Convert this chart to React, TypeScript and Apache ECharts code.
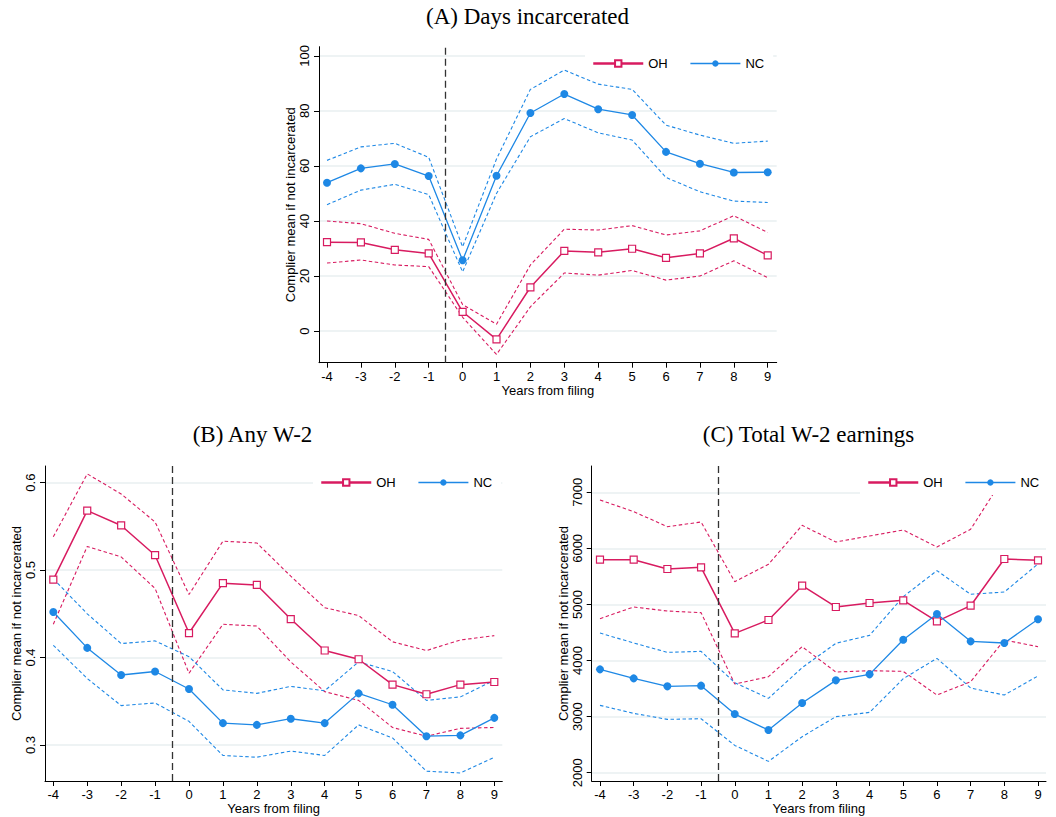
import React, { useEffect, useRef } from "react";
import * as echarts from "echarts";

// ---------- data ----------
const years = [-4, -3, -2, -1, 0, 1, 2, 3, 4, 5, 6, 7, 8, 9];
const legendNames = ["OH", "NC"];
const titles = ["(A) Days incarcerated", "(B) Any W-2", "(C) Total W-2 earnings"];
const xTitle = "Years from filing";
const yTitle = "Complier mean if not incarcerated";

// (A) Days incarcerated
const aTicks = [0, 20, 40, 60, 80, 100];
const aOH = [32.3, 32.2, 29.5, 28.2, 7.0, -3.0, 15.9, 29.1, 28.6, 29.9, 26.6, 28.2, 33.7, 27.5];
const aOHhi = [40.0, 39.0, 35.5, 33.3, 9.6, 2.5, 24.0, 37.0, 36.7, 38.3, 34.9, 36.4, 41.9, 35.8];
const aOHlo = [24.7, 25.8, 24.0, 23.4, 5.0, -8.5, 8.8, 21.1, 20.3, 22.0, 18.5, 20.0, 25.5, 19.4];
const aNC = [53.9, 59.1, 60.7, 56.3, 25.7, 56.4, 79.2, 86.1, 80.6, 78.5, 65.1, 60.8, 57.6, 57.7];
const aNChi = [62.0, 66.9, 68.2, 63.1, 30.6, 62.5, 87.8, 94.8, 89.7, 87.8, 74.8, 71.2, 68.2, 69.0];
const aNClo = [45.9, 51.2, 53.3, 49.6, 21.5, 50.0, 70.6, 77.2, 72.0, 69.4, 55.8, 50.6, 47.2, 46.7];

// (B) Any W-2
const bTicks = [0.3, 0.4, 0.5, 0.6];
const bOH = [0.489, 0.568, 0.551, 0.517, 0.428, 0.485, 0.483, 0.444, 0.408, 0.398, 0.369, 0.358, 0.369, 0.372];
const bOHhi = [0.538, 0.610, 0.587, 0.555, 0.472, 0.533, 0.531, 0.493, 0.457, 0.448, 0.418, 0.408, 0.420, 0.425];
const bOHlo = [0.438, 0.527, 0.515, 0.479, 0.382, 0.438, 0.436, 0.395, 0.361, 0.351, 0.320, 0.310, 0.319, 0.320];
const bNC = [0.452, 0.411, 0.380, 0.384, 0.364, 0.325, 0.323, 0.330, 0.325, 0.359, 0.346, 0.310, 0.311, 0.331];
const bNChi = [0.490, 0.450, 0.416, 0.419, 0.401, 0.363, 0.359, 0.367, 0.362, 0.395, 0.384, 0.351, 0.355, 0.374];
const bNClo = [0.414, 0.376, 0.345, 0.348, 0.327, 0.288, 0.286, 0.293, 0.288, 0.323, 0.308, 0.270, 0.268, 0.286];

// (C) Total W-2 earnings
const cTicks = [2000, 3000, 4000, 5000, 6000, 7000];
const cOH = [5799, 5799, 5632, 5662, 4485, 4723, 5335, 4955, 5026, 5074, 4699, 4978, 5811, 5787];
const cOHhi = [6863, 6655, 6387, 6471, 5406, 5716, 6411, 6114, 6221, 6328, 6025, 6340, 7280, 7220];
const cOHlo = [4747, 4955, 4883, 4854, 3581, 3712, 4247, 3795, 3819, 3807, 3385, 3623, 4366, 4247];
const cNC = [3843, 3682, 3540, 3552, 3046, 2761, 3243, 3647, 3754, 4372, 4830, 4342, 4313, 4735];
const cNChi = [4491, 4313, 4146, 4164, 3605, 3326, 3873, 4307, 4449, 5139, 5603, 5181, 5222, 5722];
const cNClo = [3201, 3058, 2951, 2963, 2487, 2202, 2642, 2999, 3076, 3676, 4039, 3510, 3385, 3724];

const filingLine = -0.5;

// ---------- styles ----------
const OH_COLOR = "#d81b60";
const NC_COLOR = "#1e88e5";
const SANS = "'Liberation Sans', Arial, Helvetica, sans-serif";
const SERIF = "'Liberation Serif', 'Times New Roman', serif";
const GRID_COLOR = "#e8eff1";

const pairs = (vals: number[]) => years.map((y, i) => [y, vals[i]]);

type Panel = {
  grid: { left: number; top: number; width: number; height: number };
  xMin: number;
  xMax: number;
  yMin: number;
  yMax: number;
  yTicks: number[];
  oh: number[];
  ohHi: number[];
  ohLo: number[];
  nc: number[];
  ncHi: number[];
  ncLo: number[];
  legend: { left: number; top: number };
  title: { left: number; top: number };
};

const panels: Panel[] = [
  {
    grid: { left: 319, top: 46.7, width: 457.7, height: 316 },
    xMin: -4.236, xMax: 9.265, yMin: -11.5, yMax: 103.3, yTicks: aTicks,
    oh: aOH, ohHi: aOHhi, ohLo: aOHlo, nc: aNC, ncHi: aNChi, ncLo: aNClo,
    legend: { left: 585, top: 51 },
    title: { left: 527.5, top: 5 },
  },
  {
    grid: { left: 45, top: 466, width: 457.3, height: 315 },
    xMin: -4.245, xMax: 9.236, yMin: 0.2588, yMax: 0.619, yTicks: bTicks,
    oh: bOH, ohHi: bOHhi, ohLo: bOHlo, nc: bNC, ncHi: bNChi, ncLo: bNClo,
    legend: { left: 313, top: 470 },
    title: { left: 252.5, top: 423 },
  },
  {
    grid: { left: 591.7, top: 466, width: 454.3, height: 315 },
    xMin: -4.246, xMax: 9.237, yMin: 1852, yMax: 7469, yTicks: cTicks,
    oh: cOH, ohHi: cOHhi, ohLo: cOHlo, nc: cNC, ncHi: cNChi, ncLo: cNClo,
    legend: { left: 860, top: 470 },
    title: { left: 808.5, top: 423 },
  },
];

const plain = (v: number) => String(v);

function buildOption() {
  const grid: any[] = [];
  const xAxis: any[] = [];
  const yAxis: any[] = [];
  const series: any[] = [];
  const legend: any[] = [];
  const title: any[] = [];

  panels.forEach((p, i) => {
    grid.push({ ...p.grid, containLabel: false });
    xAxis.push({
      type: "value",
      gridIndex: i,
      min: p.xMin,
      max: p.xMax,
      name: xTitle,
      nameLocation: "middle",
      nameGap: 20,
      nameTextStyle: { fontFamily: SANS, fontSize: 13, color: "#000" },
      axisLine: { show: true, onZero: false, lineStyle: { color: "#000", width: 1 } },
      axisTick: { show: true, length: 5, customValues: years, lineStyle: { color: "#000" } },
      axisLabel: { customValues: years, formatter: plain, margin: 7, fontFamily: SANS, fontSize: 13, color: "#000" },
      splitLine: { show: false },
    });
    yAxis.push({
      type: "value",
      gridIndex: i,
      min: p.yMin,
      max: p.yMax,
      name: yTitle,
      nameLocation: "middle",
      nameGap: 22,
      nameTextStyle: { fontFamily: SANS, fontSize: 13, color: "#000" },
      axisLine: { show: true, onZero: false, lineStyle: { color: "#000", width: 1 } },
      axisTick: { show: true, length: 5, customValues: p.yTicks, lineStyle: { color: "#000" } },
      axisLabel: { customValues: p.yTicks, formatter: plain, rotate: 90, margin: 8, fontFamily: SANS, fontSize: 13, color: "#000" },
      splitLine: { show: true, lineStyle: { color: GRID_COLOR, width: 1.5 } },
    });

    const ciStyle = (color: string) => ({ color, width: 1.1, type: [3.5, 2.5] });
    const common = { xAxisIndex: i, yAxisIndex: i, animation: false };

    series.push({
      ...common,
      type: "line",
      name: "OH_hi_" + i,
      data: pairs(p.ohHi),
      symbol: "none",
      lineStyle: ciStyle(OH_COLOR),
      z: 2,
    });
    series.push({
      ...common,
      type: "line",
      name: "OH_lo_" + i,
      data: pairs(p.ohLo),
      symbol: "none",
      lineStyle: ciStyle(OH_COLOR),
      z: 2,
    });
    series.push({
      ...common,
      type: "line",
      name: "NC_hi_" + i,
      data: pairs(p.ncHi),
      symbol: "none",
      lineStyle: ciStyle(NC_COLOR),
      z: 2,
    });
    series.push({
      ...common,
      type: "line",
      name: "NC_lo_" + i,
      data: pairs(p.ncLo),
      symbol: "none",
      lineStyle: ciStyle(NC_COLOR),
      z: 2,
    });
    series.push({
      ...common,
      type: "line",
      name: legendNames[0],
      data: pairs(p.oh),
      symbol: "rect",
      symbolSize: 7,
      itemStyle: { color: "#fff", borderColor: OH_COLOR, borderWidth: 1.2 },
      lineStyle: { color: OH_COLOR, width: 1.5 },
      z: 3,
      markLine: {
        silent: true,
        symbol: ["none", "none"],
        label: { show: false },
        lineStyle: { color: "#333", width: 1.3, type: [7, 4] },
        data: [{ xAxis: filingLine }],
        animation: false,
      },
    });
    series.push({
      ...common,
      type: "line",
      name: legendNames[1],
      data: pairs(p.nc),
      symbol: "circle",
      symbolSize: 8,
      itemStyle: { color: NC_COLOR },
      lineStyle: { color: NC_COLOR, width: 1.3 },
      z: 3,
    });

    legend.push({
      left: p.legend.left,
      top: p.legend.top,
      orient: "horizontal",
      backgroundColor: "#fff",
      padding: [6, 9, 6, 7],
      itemWidth: 50,
      itemHeight: 8,
      itemGap: 22,
      selectedMode: false,
      textStyle: { fontFamily: SANS, fontSize: 13, color: "#000" },
      data: [
        { name: legendNames[0], lineStyle: { width: 2.5 } },
        { name: legendNames[1], lineStyle: { width: 1.3 } },
      ],
      z: 10,
    });

    title.push({
      text: titles[i],
      left: p.title.left,
      top: p.title.top,
      textAlign: "center",
      padding: 0,
      textStyle: { fontFamily: SERIF, fontSize: 23, fontWeight: "normal", color: "#000" },
    });
  });

  return {
    animation: false,
    backgroundColor: "#fff",
    title,
    legend,
    grid,
    xAxis,
    yAxis,
    series,
  };
}

export default function App() {
  const ref = useRef<HTMLDivElement>(null);
  useEffect(() => {
    if (!ref.current) return;
    const chart = echarts.init(ref.current, null, { renderer: "svg" });
    chart.setOption(buildOption() as any);
    return () => chart.dispose();
  }, []);
  return (
    <div
      ref={ref}
      style={{ position: "absolute", left: 0, top: 0, width: 1056, height: 817, background: "#fff" }}
    />
  );
}
